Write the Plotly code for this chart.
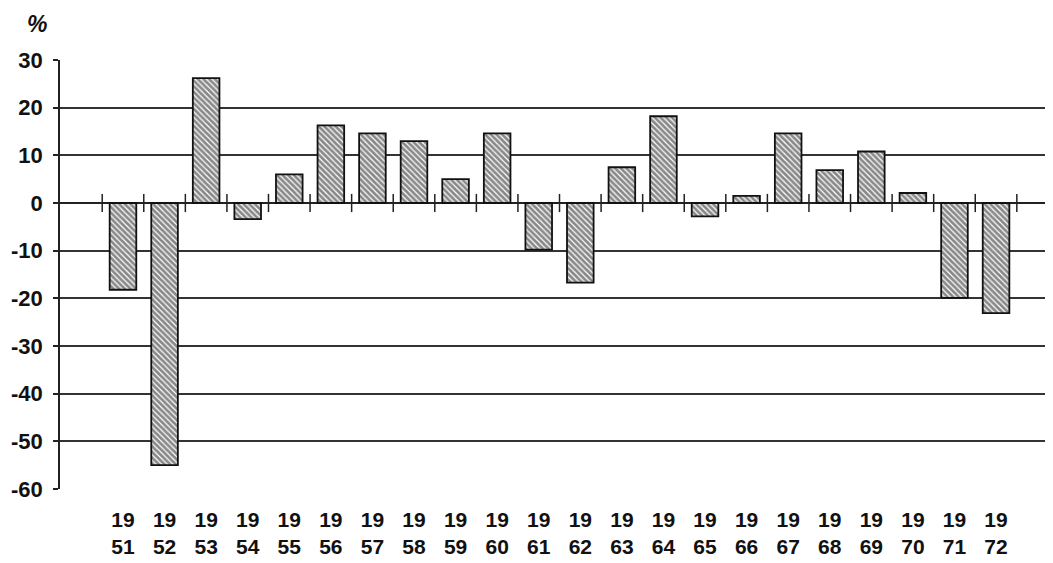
import plotly.graph_objects as go

years = list(range(1951, 1973))
values = [-18.2, -55.0, 26.2, -3.4, 6.0, 16.3, 14.6, 13.0, 5.0, 14.6, -9.8, -16.7,
          7.5, 18.2, -2.8, 1.5, 14.6, 6.9, 10.8, 2.1, -19.9, -23.1]
tick_labels = [f'{str(y)[:2]}<br>{str(y)[2:]}' for y in years]
y_ticks = [30, 20, 10, 0, -10, -20, -30, -40, -50, -60]
y_labels = [str(v) for v in y_ticks]  # plain hyphen, not the unicode minus

pos = list(range(len(years)))
font = 'Liberation Sans, Arial, sans-serif'

fig = go.Figure()
fig.add_trace(go.Bar(
    x=pos, y=values, width=0.64,
    marker=dict(color='white', line=dict(color='#111', width=1.8),
                pattern=dict(shape='\\', fgcolor='#111', bgcolor='white', size=4, solidity=0.7)),
    showlegend=False, hoverinfo='x+y'))

# little category ticks sitting on the zero line
fig.add_trace(go.Scatter(
    x=[p - 0.5 for p in pos] + [pos[-1] + 0.5], y=[0] * (len(pos) + 1),
    mode='markers', marker=dict(symbol='line-ns', size=13, line=dict(color='#222', width=1.5)),
    showlegend=False, hoverinfo='skip'))

# page body has an 8px margin, so the figure is a bit smaller than the window
fig.update_layout(
    width=1045, height=555,
    margin=dict(l=52, r=0, t=52, b=74),
    plot_bgcolor='white', paper_bgcolor='white',
    font=dict(family=font, size=21, color='#111'),
)
fig.update_xaxes(range=[-1.515, 22.37], tickvals=pos, ticktext=tick_labels,
                 showgrid=False, zeroline=False, showline=False, ticks='',
                 ticklabelstandoff=16, automargin=False,
                 tickfont=dict(size=21, weight='bold'))
fig.update_yaxes(range=[-60, 30], tickvals=y_ticks, ticktext=y_labels,
                 showgrid=True, gridcolor='#333', gridwidth=1.5,
                 zeroline=True, zerolinecolor='#222', zerolinewidth=1.5,
                 showline=True, linecolor='#222', linewidth=1.5,
                 ticks='outside', ticklen=5, tickcolor='#222', tickwidth=1.5,
                 ticklabelstandoff=6, automargin=False,
                 tickfont=dict(size=22, weight='bold'))
fig.add_annotation(text='<i><b>%</b></i>', xref='paper', yref='paper', x=-0.023, y=1.085,
                   xanchor='center', yanchor='middle', showarrow=False,
                   font=dict(size=23, family=font))

fig.write_html("out.html")
